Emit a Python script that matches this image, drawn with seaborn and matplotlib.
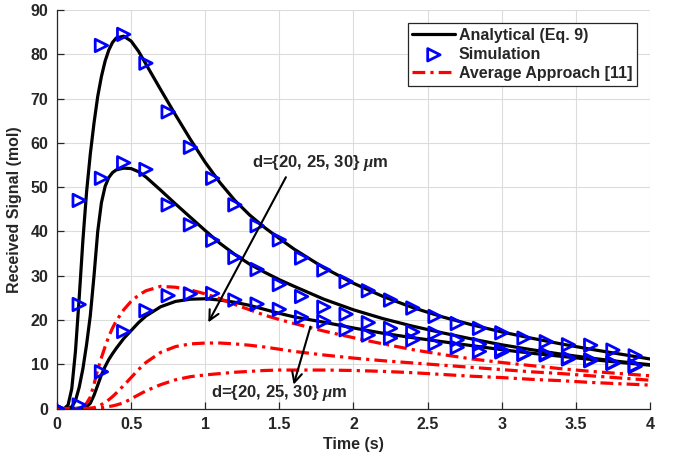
import numpy as np
import pandas as pd
import matplotlib
matplotlib.use("Agg")
import matplotlib.pyplot as plt
import seaborn as sns

# time grid used for the smooth curves (s)
t_curve = [0, 0.05, 0.075, 0.1, 0.125, 0.15, 0.175, 0.2, 0.225, 0.25, 0.275, 0.3,
           0.325, 0.35, 0.375, 0.4, 0.45, 0.5, 0.55, 0.6, 0.7, 0.8, 0.9, 1.0,
           1.1, 1.2, 1.3, 1.4, 1.5, 1.6, 1.8, 2.0, 2.2, 2.4, 2.6, 2.8, 3.0,
           3.2, 3.4, 3.6, 3.8, 4.0]

# analytical (Eq. 9), d = 20, 25, 30 um
ana_d20 = [0, 0, 0.8, 4.5, 13, 25, 38, 49, 57.5, 64.5, 70.5, 75,
           78.5, 81, 82.7, 83.7, 84.1, 83, 80.7, 77.8, 72, 66.3, 60.8, 55.6,
           51, 47, 43.7, 40.9, 38.4, 36, 31.8, 28.3, 25.3, 22.8, 20.7, 18.9, 17.3,
           15.9, 14.6, 13.4, 12.3, 11.2]
ana_d25 = [0, 0, 0, 0.4, 1.8, 4.8, 9, 14.5, 21, 30, 40, 46.5,
           50.2, 52.2, 53.3, 53.9, 54.3, 54.2, 53.5, 52.3, 49.3, 46.2, 43.2, 40.2,
           37.3, 34.8, 32.6, 30.8, 29.1, 27.6, 24.7, 22.3, 20.3, 18.6, 17.1, 15.7, 14.4,
           13.3, 12.3, 11.4, 10.6, 9.9]
ana_d30 = [0, 0, 0, 0, 0, 0.1, 0.2, 0.4, 1.2, 3.0, 5.3, 7.6,
           9.5, 11.1, 12.4, 13.6, 15.8, 17.6, 19.4, 20.9, 23.0, 24.2, 24.7, 24.8,
           24.5, 24.0, 23.3, 22.4, 21.5, 20.7, 19.5, 18.2, 17.0, 16.0, 15.1, 14.2, 13.3,
           12.5, 11.8, 11.1, 10.4, 9.8]

# average approach [11]
avg_d20 = [0, 0, 0, 0, 0, 0.1, 0.4, 1.2, 2.6, 5.5, 8.8, 11.5,
           14.0, 16.3, 18.2, 19.8, 22.3, 24.2, 25.6, 26.6, 27.6, 27.4, 26.8, 25.9,
           24.8, 23.5, 22.3, 21.1, 20.1, 19.2, 17.5, 16.0, 14.6, 13.3, 12.2, 11.2, 10.4,
           9.7, 9.0, 8.4, 7.9, 7.4]
avg_d25 = [0, 0, 0, 0, 0, 0, 0, 0, 0.1, 0.2, 0.5, 0.9,
           1.4, 2.0, 2.7, 3.5, 5.2, 7.0, 8.8, 10.4, 12.7, 14.0, 14.6, 14.8,
           14.8, 14.6, 14.3, 13.9, 13.4, 12.9, 12.1, 11.4, 10.8, 10.3, 9.8, 9.3, 8.8,
           8.3, 7.9, 7.4, 6.9, 6.4]
avg_d30 = [0, 0, 0, 0, 0, 0, 0, 0, 0, 0.05, 0.1, 0.2,
           0.3, 0.45, 0.6, 0.8, 1.3, 2.2, 3.1, 4.0, 5.4, 6.5, 7.2, 7.6,
           7.9, 8.2, 8.4, 8.6, 8.7, 8.7, 8.7, 8.6, 8.4, 8.1, 7.7, 7.3, 7.0,
           6.6, 6.3, 5.9, 5.6, 5.3]

# simulation samples
t_sim = [0, 0.15, 0.3, 0.45, 0.6, 0.75, 0.9, 1.05, 1.2, 1.35, 1.5, 1.65, 1.8,
         1.95, 2.1, 2.25, 2.4, 2.55, 2.7, 2.85, 3.0, 3.15, 3.3, 3.45, 3.6, 3.75, 3.9]
sim_d20 = [0, 47, 82, 84.5, 78, 67, 59, 52, 46, 41.3, 38.1, 34, 31.3,
           28.7, 26.6, 24.5, 22.7, 20.8, 19.2, 18.1, 17.1, 15.9, 15.1, 14.4, 14.3, 13.2, 11.9]
sim_d25 = [0, 23.5, 52, 55.5, 54, 46, 41.5, 38, 34.1, 31.4, 28, 25.3, 22.9,
           21.3, 19.4, 18.1, 17.3, 17.0, 15.5, 14.5, 13.2, 12.2, 12.1, 11.4, 11.0, 10.3, 9.7]
sim_d30 = [0, 0.8, 8.3, 17.4, 22.1, 25.5, 25.9, 26.0, 24.5, 23.6, 22.4, 20.6, 19.7,
           17.8, 16.6, 15.9, 15.5, 14.6, 13.8, 12.9, 12.8, 12.3, 12.3, 11.2, 10.8, 10.2, 9.5]

sns.set_theme(style="whitegrid")
plt.rcParams['font.family'] = ['Liberation Sans', 'DejaVu Sans']
plt.rcParams['font.weight'] = 'bold'
plt.rcParams['mathtext.fontset'] = 'custom'
plt.rcParams['mathtext.it'] = 'Liberation Serif:italic'
plt.rcParams['mathtext.rm'] = 'Liberation Sans:bold'

fig, ax = plt.subplots(figsize=(6.78, 4.57), dpi=100)
fig.subplots_adjust(left=0.084, right=0.9587, bottom=0.106, top=0.978)

dash_dot = (4, 1.6, 1, 1.6)
for i, y in enumerate([ana_d20, ana_d25, ana_d30]):
    sns.lineplot(x=t_curve, y=y, ax=ax, color="black", lw=2.3,
                 label="Analytical (Eq. 9)" if i == 0 else None, legend=False)
for i, y in enumerate([sim_d20, sim_d25, sim_d30]):
    sns.scatterplot(x=t_sim, y=y, ax=ax, marker=">", s=80, facecolor="none",
                    edgecolor="blue", linewidth=2.0, zorder=3,
                    label="Simulation" if i == 0 else None, legend=False)
for i, y in enumerate([avg_d20, avg_d25, avg_d30]):
    sns.lineplot(x=t_curve, y=y, ax=ax, color="red", lw=2.3, dashes=False,
                 label="Average Approach [11]" if i == 0 else None, legend=False)
    ax.lines[-1].set_dashes(dash_dot)

ax.set_xlim(0, 4)
ax.set_ylim(0, 90)
ax.set_xticks([0, 0.5, 1, 1.5, 2, 2.5, 3, 3.5, 4])
ax.set_xticklabels(["0", "0.5", "1", "1.5", "2", "2.5", "3", "3.5", "4"],
                   fontweight="bold", fontsize=11.5)
ax.set_yticks(range(0, 91, 10))
ax.set_yticklabels([str(v) for v in range(0, 91, 10)], fontweight="bold", fontsize=11.5)
ax.grid(True, color="#dcdcdc", lw=0.8)
ax.set_facecolor("white")
for side in ["top", "right"]:
    ax.spines[side].set_visible(False)
for side in ["left", "bottom"]:
    ax.spines[side].set_color("#262626")
    ax.spines[side].set_linewidth(0.9)
ax.tick_params(axis="both", direction="in", length=5, width=0.9, color="#262626",
               labelcolor="#262626", left=True, bottom=True, pad=6)

ax.set_xlabel("Time (s)", fontsize=11.5, fontweight="bold", color="#262626", labelpad=4)
ax.set_ylabel("Received Signal (mol)", fontsize=11.5, fontweight="bold", color="#262626", labelpad=6)

# legend
handles, labels = ax.get_legend_handles_labels()
leg = ax.legend(handles, labels, loc="upper right", bbox_to_anchor=(0.978, 0.967),
                borderaxespad=0, fancybox=False, framealpha=1, edgecolor="#262626",
                prop={"weight": "bold", "size": 11.5}, handlelength=2.7,
                handletextpad=0.2, borderpad=0.3, labelspacing=0.25)
leg.get_frame().set_linewidth(0.9)

# annotations
ax.text(1.775, 55.5, r"d={20, 25, 30} $\mu$m", fontsize=12, fontweight="bold",
        ha="center", va="center")
ax.annotate("", xy=(1.012, 18.9), xytext=(1.553, 52.8),
            arrowprops=dict(arrowstyle="->,head_length=0.6,head_width=0.3", color="black", lw=1.5))
ax.text(1.502, 3.5, r"d={20, 25, 30} $\mu$m", fontsize=12, fontweight="bold",
        ha="center", va="center")
ax.annotate("", xy=(1.591, 4.8), xytext=(1.715, 19.1),
            arrowprops=dict(arrowstyle="->,head_length=0.6,head_width=0.3", color="black", lw=1.5))

plt.savefig("out.png", dpi=100)
